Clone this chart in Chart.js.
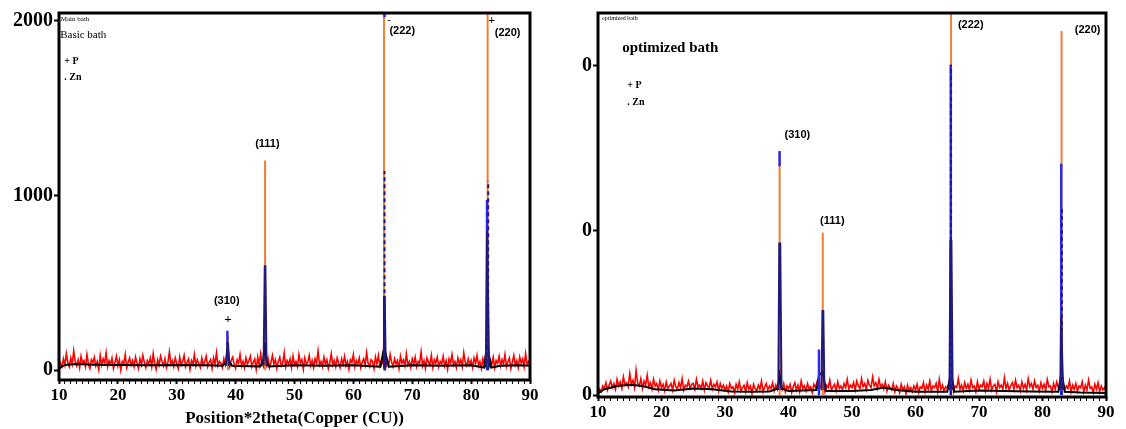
<!DOCTYPE html>
<html>
<head>
<meta charset="utf-8">
<script src="https://cdn.jsdelivr.net/npm/chart.js@4.4.1/dist/chart.umd.min.js"></script>
<style>
  body { margin: 0; background: #fff; }
  .panel { position: absolute; top: 0; }
</style>
</head>
<body>
<canvas id="left" class="panel" width="545" height="429" style="left:0"></canvas>
<canvas id="right" class="panel" width="571" height="429" style="left:555px"></canvas>
<script>
// ---- axis ticks ----
const xTickLabels = [10, 20, 30, 40, 50, 60, 70, 80, 90];
const leftYTicks = [0, 1000, 2000];
const rightYTicks = [0, 1000, 2000];
const rightYTickLabels = ["0", "0", "0"];

// ---- Basic bath (left) ----
// red scan, every 0.25 deg from 10 to 90
const leftScanStart = 10;
const leftScanStep = 0.25;
const leftScan = [
  5, 40, 20, 65, 30, 95, 45, 20, 70, 35, 110, 50, 25, 60, 15, 80, 40, 55, 20, 90,
  35, 10, 60, 45, 75, 25, 50, 5, 85, 30, 65, 40, 100, 20, 55, 35, 70, 10, 45, 80,
  25, 60, 0, 50, 35, 90, 15, 45, 70, 30, 55, 20, 75, 40, 10, 65, 30, 85, 45, 15,
  55, 35, 70, 20, 95, 40, 5, 60, 30, 80, 50, 25, 65, 15, 45, 105, 35, 55, 20, 70,
  40, 10, 75, 30, 50, 85, 20, 45, 65, 5, 55, 35, 90, 25, 60, 40, 15, 70, 30, 50,
  80, 20, 45, 60, 10, 70, 35, 100, 25, 50, 40, 15, 65, 30, 85, 45, 20, 55, 75, 35,
  10, 60, 40, 90, 25, 50, 15, 70, 35, 55, 80, 20, 45, 65, 5, 75, 30, 95, 40, 20,
  55, 30, 70, 15, 45, 85, 35, 60, 10, 50, 75, 25, 40, 100, 20, 55, 35, 65, 15, 80,
  30, 50, 20, 90, 40, 60, 5, 70, 35, 45, 85, 25, 55, 15, 65, 40, 110, 30, 50, 20,
  75, 35, 60, 10, 45, 95, 30, 55, 20, 70, 40, 15, 65, 35, 80, 25, 50, 5, 60, 45,
  90, 20, 55, 35, 70, 15, 45, 65, 30, 100, 40, 20, 60, 50, 10, 75, 35, 85, 25, 55,
  40, 70, 15, 50, 30, 90, 45, 20, 65, 35, 55, 10, 80, 40, 60, 25, 95, 30, 50, 15,
  65, 35, 75, 20, 50, 40, 105, 25, 55, 10, 70, 45, 30, 85, 15, 60, 40, 75, 20, 50,
  35, 80, 25, 55, 5, 65, 40, 90, 30, 50, 15, 70, 35, 60, 20, 100, 45, 25, 65, 30,
  55, 15, 70, 40, 85, 25, 50, 10, 65, 35, 95, 20, 45, 60, 30, 75, 15, 55, 40, 80,
  25, 60, 35, 90, 20, 50, 70, 10, 45, 85, 30, 55, 15, 75, 40, 65, 20, 95, 35, 50,
  30
];
const leftScanPeakX = [38.55, 38.65, 38.75, 44.85, 44.95, 45.05, 65.15, 65.22, 65.3, 82.65, 82.72, 82.8];
const leftScanPeakY = [70, 140, 50, 80, 170, 60, 120, 435, 90, 200, 808, 120];

// black fitted profile
const leftFitX = [10, 11, 13, 16, 20, 25, 30, 35, 37.8, 38.4, 38.65, 38.9, 39.4, 44.2, 44.7, 44.95, 45.2, 45.6,
  50, 55, 60, 64.6, 65.05, 65.25, 65.45, 66.0, 70, 75, 80, 82.2, 82.55, 82.75, 82.95, 83.4, 85, 88, 90];
const leftFitY = [10, 30, 35, 32, 30, 28, 30, 28, 25, 50, 140, 50, 25, 22, 60, 160, 60, 22,
  28, 25, 28, 20, 100, 130, 100, 20, 28, 25, 28, 15, 100, 140, 100, 15, 25, 28, 26];

// reference sticks (orange), blue sticks, navy peak profiles
const leftStickX = [38.7, 45.0, 65.2, 82.8];
const leftStickTop = [200, 1200, 2100, 2100];
const leftBlueX = [38.6, 65.3, 82.7];
const leftBlueFrom = [140, 2020, 0];
const leftBlueTo = [226, 2045, 975];
const leftNavyX = [[38.4, 38.6, 38.7, 38.9], [44.75, 44.95, 45.05, 45.25], [65.05, 65.2, 65.32, 65.5], [82.5, 82.7, 82.85, 83.05]];
const leftNavyY = [[25, 155, 160, 25], [25, 595, 595, 25], [20, 420, 420, 20], [15, 800, 800, 15]];
const leftDashX = [65.3, 82.9];
const leftDashTop = [1140, 1085];

// ---- optimized bath (right) ----
const rightScanStart = 10;
const rightScanStep = 0.25;
const rightScan = [
  10, 35, 20, 55, 40, 75, 30, 60, 85, 45, 70, 35, 95, 55, 80, 40, 110, 60, 75, 50,
  130, 65, 90, 45, 150, 70, 55, 100, 40, 85, 60, 120, 50, 75, 35, 95, 55, 70, 30, 85,
  45, 65, 25, 80, 40, 55, 70, 30, 90, 50, 35, 75, 45, 100, 30, 60, 50, 85, 40, 65,
  70, 35, 95, 50, 60, 40, 85, 30, 75, 55, 45, 90, 35, 65, 50, 80, 25, 70, 40, 60,
  30, 55, 20, 70, 40, 50, 15, 65, 35, 80, 25, 45, 60, 20, 75, 35, 55, 10, 65, 40,
  25, 60, 35, 85, 20, 50, 70, 30, 55, 40, 75, 25, 60, 35, 90, 45, 30, 70, 20, 55,
  40, 65, 15, 50, 75, 30, 60, 20, 85, 40, 55, 25, 70, 35, 50, 15, 65, 45, 80, 30,
  55, 35, 75, 20, 60, 45, 90, 30, 50, 65, 25, 80, 40, 55, 30, 70, 45, 95, 35, 60,
  45, 75, 30, 85, 55, 40, 100, 50, 70, 35, 90, 60, 45, 110, 55, 75, 40, 95, 50, 65,
  35, 80, 25, 60, 45, 30, 70, 20, 55, 40, 15, 65, 30, 50, 10, 60, 25, 45, 20, 55,
  30, 65, 15, 50, 40, 75, 20, 60, 35, 85, 25, 55, 45, 70, 20, 95, 35, 60, 25, 50,
  40, 70, 30, 85, 20, 55, 45, 100, 35, 60, 25, 75, 40, 65, 30, 90, 45, 55, 20, 80,
  35, 60, 50, 85, 25, 70, 40, 95, 30, 55, 65, 20, 80, 45, 60, 35, 105, 40, 70, 30,
  55, 75, 35, 90, 45, 60, 25, 80, 40, 65, 30, 100, 50, 70, 35, 85, 45, 60, 25, 75,
  40, 65, 30, 95, 50, 55, 20, 70, 35, 80, 45, 60, 25, 75, 30, 55, 40, 85, 20, 60,
  35, 70, 25, 55, 45, 80, 20, 60, 30, 90, 40, 50, 15, 65, 35, 75, 20, 55, 30, 45,
  25
];
const rightScanPeakX = [38.5, 38.6, 38.7, 44.7, 44.8, 44.9, 45.3, 45.4, 45.5, 65.5, 65.6, 65.7, 82.9, 83.0, 83.1];
const rightScanPeakY = [80, 253, 60, 60, 150, 70, 100, 510, 80, 60, 200, 60, 100, 500, 80];

const rightFitX = [10, 11, 13, 15, 17, 19, 22, 25, 28, 31, 34, 37, 38.3, 38.6, 38.9, 40, 44.4, 44.8, 45.4, 45.9,
  50, 53, 55, 57, 60, 65.0, 65.6, 66.1, 70, 74, 78, 82.5, 83.0, 83.5, 86, 90];
const rightFitY = [10, 35, 55, 62, 55, 35, 28, 40, 35, 22, 20, 22, 40, 120, 40, 25, 30, 120, 140, 25,
  25, 30, 45, 30, 20, 20, 140, 20, 28, 25, 22, 20, 140, 20, 15, 12];

const rightStickX = [38.6, 45.4, 65.6, 83.0];
const rightStickTop = [1470, 985, 2400, 2210];
const rightBlueX = [38.6, 44.8, 65.55, 82.95];
const rightBlueFrom = [1390, 0, 0, 0];
const rightBlueTo = [1482, 277, 2006, 1404];
const rightNavyX = [[38.4, 38.55, 38.7, 38.9], [45.2, 45.35, 45.48, 45.65], [65.35, 65.5, 65.65, 65.85], [82.8, 82.92, 83.05, 83.25]];
const rightNavyY = [[30, 920, 920, 30], [30, 510, 510, 30], [30, 935, 935, 30], [30, 470, 470, 30]];
const rightDashX = [65.6, 83.05];
const rightDashTop = [2006, 1133];

// ---- text on the plots (data coordinates) ----
const serifB = "'Liberation Serif', 'DejaVu Serif', serif";
const narrow = "'Liberation Sans Narrow', 'Liberation Sans', sans-serif";
const leftNotes = [
  { text: "Main bath", x: 10.3, y: 2010, font: "7px " + serifB, align: "left" },
  { text: "Basic bath", x: 10.2, y: 1921, font: "11px " + serifB, align: "left" },
  { text: "+ P", x: 10.9, y: 1768, font: "bold 10px " + serifB, align: "left" },
  { text: ". Zn", x: 10.9, y: 1678, font: "bold 10px " + serifB, align: "left" },
  { text: "(310)", x: 38.5, y: 395, font: "bold 11px " + narrow },
  { text: "+", x: 38.7, y: 288, font: "bold 13px " + serifB },
  { text: "(111)", x: 45.4, y: 1294, font: "bold 11px " + narrow },
  { text: "(222)", x: 68.3, y: 1943, font: "bold 11px " + narrow },
  { text: "-", x: 66.1, y: 2000, font: "bold 10px " + serifB },
  { text: "(220)", x: 86.2, y: 1932, font: "bold 11px " + narrow },
  { text: "+", x: 83.5, y: 2000, font: "bold 12px " + serifB }
];
const rightNotes = [
  { text: "optimized bath", x: 10.6, y: 2290, font: "6px " + serifB, align: "left" },
  { text: "optimized bath", x: 13.8, y: 2108, font: "bold 15px " + serifB, align: "left" },
  { text: "+ P", x: 14.6, y: 1880, font: "bold 10px " + serifB, align: "left" },
  { text: ". Zn", x: 14.6, y: 1777, font: "bold 10px " + serifB, align: "left" },
  { text: "(310)", x: 41.4, y: 1578, font: "bold 11px " + narrow },
  { text: "(111)", x: 46.9, y: 1054, font: "bold 11px " + narrow },
  { text: "(222)", x: 68.7, y: 2247, font: "bold 11px " + narrow },
  { text: "(220)", x: 87.1, y: 2217, font: "bold 11px " + narrow }
];

// ---- helpers ----
function zip(xs, ys) {
  return xs.map((x, i) => ({ x: x, y: ys[i] }));
}
function scanPoints(start, step, vals, peakX, peakY) {
  const pts = vals.map((v, i) => ({ x: start + i * step, y: v }));
  return pts.concat(zip(peakX, peakY)).sort((a, b) => a.x - b.x);
}
function sticks(xs, from, to) {
  const out = [];
  xs.forEach((x, i) => {
    out.push({ x: x, y: Array.isArray(from) ? from[i] : from });
    out.push({ x: x, y: to[i] });
    out.push({ x: x, y: null });
  });
  return out;
}
function profiles(xs, ys) {
  const out = [];
  xs.forEach((row, i) => {
    row.forEach((x, j) => out.push({ x: x, y: ys[i][j] }));
    out.push({ x: row[row.length - 1], y: null });
  });
  return out;
}

function notesPlugin(items) {
  return {
    id: "notes",
    afterDatasetsDraw(chart) {
      const { ctx, scales: { x, y } } = chart;
      ctx.save();
      ctx.fillStyle = "#000";
      ctx.textBaseline = "middle";
      items.forEach(n => {
        ctx.font = n.font;
        ctx.textAlign = n.align || "center";
        ctx.fillText(n.text, x.getPixelForValue(n.x), y.getPixelForValue(n.y));
      });
      ctx.restore();
    },
    afterDraw(chart) {
      const a = chart.chartArea;
      const ctx = chart.ctx;
      ctx.save();
      ctx.strokeStyle = "#000";
      ctx.lineWidth = 3;
      ctx.strokeRect(a.left, a.top, a.right - a.left, a.bottom - a.top);
      ctx.restore();
    }
  };
}

function makeDatasets(p) {
  return [
    { data: p.dash, borderColor: "#1a1a8c", borderWidth: 2, borderDash: [4, 3], order: 1 },
    { data: p.navy, borderColor: "#221a78", borderWidth: 2, order: 2 },
    { data: p.blue, borderColor: "#2b2bf0", borderWidth: 2.5, order: 3 },
    { data: p.fit, borderColor: "#000", borderWidth: 2, order: 4 },
    { data: p.sticks, borderColor: "#f07f35", borderWidth: 2, order: 5 },
    { data: p.scan, borderColor: "#ff0000", borderWidth: 1.6, order: 6 }
  ];
}

function makeChart(id, p) {
  const minorTicks = [];
  for (let v = 10; v <= 90; v++) minorTicks.push({ value: v });
  return new Chart(document.getElementById(id), {
    type: "line",
    data: { datasets: makeDatasets(p) },
    options: {
      responsive: false,
      animation: false,
      layout: { padding: { top: p.padTop, right: p.padRight, left: 0, bottom: 0 } },
      elements: { point: { radius: 0 }, line: { tension: 0 } },
      plugins: { legend: { display: false }, tooltip: { enabled: false } },
      scales: {
        x: {
          type: "linear",
          min: 10,
          max: 90,
          afterBuildTicks: s => { s.ticks = minorTicks.slice(); },
          afterFit: s => { s.height = p.xHeight; },
          border: { display: false },
          grid: {
            drawOnChartArea: false,
            tickLength: 4,
            tickColor: "#000",
            tickWidth: c => (c.tick && xTickLabels.includes(c.tick.value) ? 2 : 1)
          },
          ticks: {
            autoSkip: false,
            maxRotation: 0,
            padding: 1,
            color: "#000",
            font: { family: serifB, size: 17, weight: "bold" },
            callback: v => (xTickLabels.includes(v) ? String(v) : "")
          },
          title: {
            display: !!p.title,
            text: p.title || "",
            color: "#000",
            padding: 0,
            font: { family: serifB, size: 17, weight: "bold" }
          }
        },
        y: {
          min: p.yMin,
          max: p.yMax,
          afterBuildTicks: s => { s.ticks = p.yTicks.map(v => ({ value: v })); },
          afterFit: s => { s.width = p.yWidth; },
          border: { display: false },
          grid: { drawOnChartArea: false, tickLength: 5, tickColor: "#000", tickWidth: 2 },
          ticks: {
            padding: 1,
            color: "#000",
            font: { family: serifB, size: 20, weight: "bold" },
            callback: (v, i) => p.yLabels[i]
          }
        }
      }
    },
    plugins: [notesPlugin(p.notes)]
  });
}

makeChart("left", {
  scan: scanPoints(leftScanStart, leftScanStep, leftScan, leftScanPeakX, leftScanPeakY),
  fit: zip(leftFitX, leftFitY),
  sticks: sticks(leftStickX, 0, leftStickTop),
  blue: sticks(leftBlueX, leftBlueFrom, leftBlueTo),
  navy: profiles(leftNavyX, leftNavyY),
  dash: sticks(leftDashX, 0, leftDashTop),
  notes: leftNotes,
  yMin: -56, yMax: 2045,
  yTicks: leftYTicks, yLabels: leftYTicks.map(String),
  yWidth: 59, xHeight: 49, padTop: 8, padRight: 15,
  title: "Position*2theta(Copper (CU))"
});

makeChart("right", {
  scan: scanPoints(rightScanStart, rightScanStep, rightScan, rightScanPeakX, rightScanPeakY),
  fit: zip(rightFitX, rightFitY),
  sticks: sticks(rightStickX, 0, rightStickTop),
  blue: sticks(rightBlueX, rightBlueFrom, rightBlueTo),
  navy: profiles(rightNavyX, rightNavyY),
  dash: sticks(rightDashX, 0, rightDashTop),
  notes: rightNotes,
  yMin: -12, yMax: 2320,
  yTicks: rightYTicks, yLabels: rightYTickLabels,
  yWidth: 43, xHeight: 32, padTop: 10, padRight: 20,
  title: ""
});
</script>
</body>
</html>
